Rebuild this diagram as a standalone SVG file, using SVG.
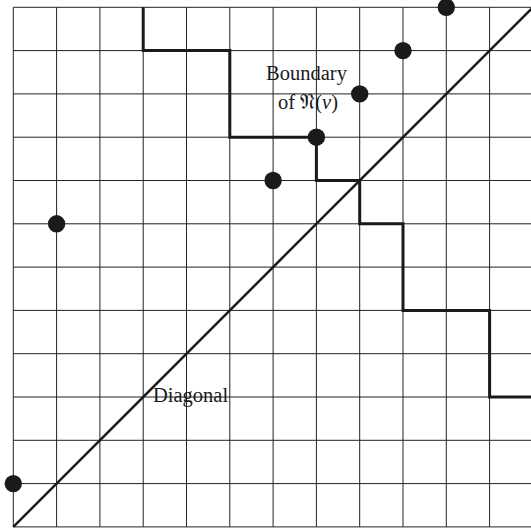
<svg xmlns="http://www.w3.org/2000/svg" width="531" height="531" viewBox="0 0 531 531">
<style>
.grid line{stroke:#222;stroke-width:1}
.thick{fill:none;stroke:#1a1a1a;stroke-width:3;stroke-linejoin:miter}
.diag{fill:none;stroke:#1a1a1a;stroke-width:2.5}
.dot{fill:#1a1a1a}
.lbl{font-family:"Liberation Serif","DejaVu Serif","DejaVu Sans",serif;font-size:20.5px;fill:#1a1a1a}
</style>
<rect width="531" height="531" fill="#fff"/>
<g id="grid" class="grid">
<line x1="13.3" y1="7.3" x2="13.3" y2="526.9"/>
<line x1="56.6" y1="7.3" x2="56.6" y2="526.9"/>
<line x1="99.9" y1="7.3" x2="99.9" y2="526.9"/>
<line x1="143.2" y1="7.3" x2="143.2" y2="526.9"/>
<line x1="186.5" y1="7.3" x2="186.5" y2="526.9"/>
<line x1="229.8" y1="7.3" x2="229.8" y2="526.9"/>
<line x1="273.1" y1="7.3" x2="273.1" y2="526.9"/>
<line x1="316.4" y1="7.3" x2="316.4" y2="526.9"/>
<line x1="359.7" y1="7.3" x2="359.7" y2="526.9"/>
<line x1="403" y1="7.3" x2="403" y2="526.9"/>
<line x1="446.3" y1="7.3" x2="446.3" y2="526.9"/>
<line x1="489.6" y1="7.3" x2="489.6" y2="526.9"/>
<line x1="13.3" y1="7.3" x2="532.9" y2="7.3"/>
<line x1="13.3" y1="50.6" x2="532.9" y2="50.6"/>
<line x1="13.3" y1="93.9" x2="532.9" y2="93.9"/>
<line x1="13.3" y1="137.2" x2="532.9" y2="137.2"/>
<line x1="13.3" y1="180.5" x2="532.9" y2="180.5"/>
<line x1="13.3" y1="223.8" x2="532.9" y2="223.8"/>
<line x1="13.3" y1="267.1" x2="532.9" y2="267.1"/>
<line x1="13.3" y1="310.4" x2="532.9" y2="310.4"/>
<line x1="13.3" y1="353.7" x2="532.9" y2="353.7"/>
<line x1="13.3" y1="397" x2="532.9" y2="397"/>
<line x1="13.3" y1="440.3" x2="532.9" y2="440.3"/>
<line x1="13.3" y1="483.6" x2="532.9" y2="483.6"/>
<line x1="13.3" y1="526.9" x2="532.9" y2="526.9"/>
</g>
<g id="connectors">
<path id="diagonal" class="diag" d="M13.3,526.9 L532.9,7.3"/>
<path id="boundary" class="thick" d="M143.2,7.3 V50.6 H229.8 V137.2 H316.4 V180.5 H359.7 V223.8 H403 V310.4 H489.6 V397 H534"/>
</g>
<g id="points">
<circle id="p1" class="dot" cx="13.3" cy="483.6" r="8.7"/>
<circle id="p2" class="dot" cx="56.6" cy="223.8" r="8.7"/>
<circle id="p3" class="dot" cx="273.1" cy="180.5" r="8.7"/>
<circle id="p4" class="dot" cx="316.4" cy="137.2" r="8.7"/>
<circle id="p5" class="dot" cx="359.7" cy="93.9" r="8.7"/>
<circle id="p6" class="dot" cx="403" cy="50.6" r="8.7"/>
<circle id="p7" class="dot" cx="446.3" cy="7.3" r="8.7"/>
</g>
<g id="labels">
<text class="lbl" x="306.5" y="80" text-anchor="middle">Boundary</text>
<text class="lbl" x="308" y="109" text-anchor="middle">of 𝔑(<tspan font-style="italic">v</tspan>)</text>
<text class="lbl" x="153" y="402">Diagonal</text>
</g>
</svg>
